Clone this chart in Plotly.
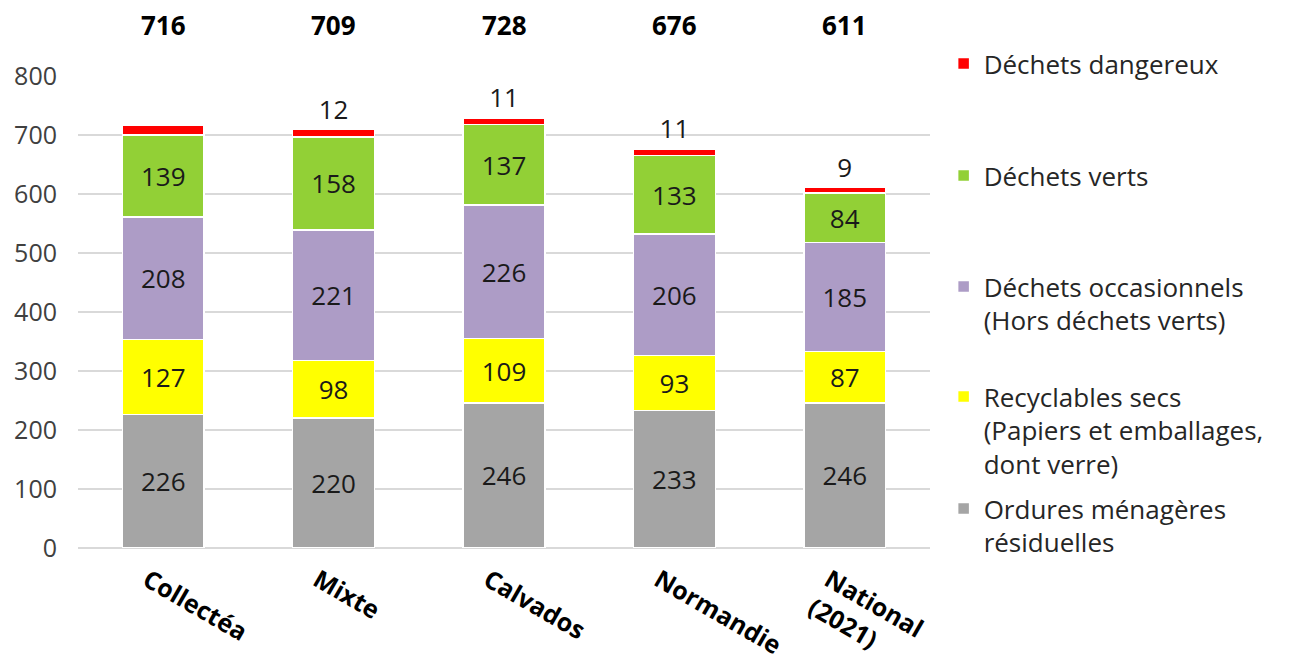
import plotly.graph_objects as go

categories = ["Collectéa", "Mixte", "Calvados", "Normandie", "National<br>(2021)"]
omr = [226, 220, 246, 233, 246]
recyclables = [127, 98, 109, 93, 87]
occasionnels = [208, 221, 226, 206, 185]
verts = [139, 158, 137, 133, 84]
dangereux = [16, 12, 11, 11, 9]
dangereux_labels = ["", "12", "11", "11", "9"]
totals = [716, 709, 728, 676, 611]

series_names = [
    "Ordures ménagères<br>résiduelles",
    "Recyclables secs<br>(Papiers et emballages,<br>dont verre)",
    "Déchets occasionnels<br>(Hors déchets verts)",
    "Déchets verts",
    "Déchets dangereux",
]
series_values = [omr, recyclables, occasionnels, verts, dangereux]
series_colors = ["#a5a5a5", "#ffff00", "#ad9cc6", "#92d036", "#ff0000"]
# one legend box per series, stacked top (dangereux) to bottom (ordures)
series_legend = ["legend5", "legend4", "legend3", "legend2", "legend"]
legend_tops = {"legend": 0.9515, "legend2": 0.7818, "legend3": 0.6136,
               "legend4": 0.4470, "legend5": 0.2773}

FONT = "Open Sans"
fig = go.Figure()
for i, (name, vals, col, lg) in enumerate(zip(series_names, series_values, series_colors, series_legend)):
    is_top = i == len(series_names) - 1
    fig.add_trace(go.Bar(
        x=categories, y=vals, name=name,
        marker=dict(color=col, line=dict(color="white", width=1.5)),
        text=dangereux_labels if is_top else [str(v) for v in vals],
        texttemplate="%{text}",
        textposition="outside" if is_top else "inside",
        insidetextanchor="middle",
        textangle=0,
        constraintext="none",
        textfont=dict(family=FONT, size=26, color="#1a1a1a"),
        outsidetextfont=dict(family=FONT, size=26, color="#1a1a1a"),
        cliponaxis=False,
        legend=lg,
        hoverinfo="skip",
    ))

for cat, tot in zip(categories, totals):
    fig.add_annotation(x=cat, y=1.108, xref="x", yref="paper", yanchor="middle",
                       text=f"<b>{tot}</b>", showarrow=False,
                       font=dict(family=FONT, size=26, color="black"))

legend_style = dict(
    x=1.016, xanchor="left",
    yref="container", yanchor="top",
    font=dict(family=FONT, size=26, color="#262626"),
    valign="top",
    bgcolor="rgba(0,0,0,0)",
)

fig.update_layout(
    barmode="stack",
    bargap=0.52,
    width=1292, height=660,
    margin=dict(l=70, r=370, t=68, b=120, autoexpand=False),
    plot_bgcolor="white", paper_bgcolor="white",
    font=dict(family=FONT, color="#404040"),
    showlegend=True,
    **{k: dict(legend_style, y=v) for k, v in legend_tops.items()},
)
fig.update_yaxes(range=[0, 800], dtick=100, showgrid=True, gridcolor="#d9d9d9", gridwidth=2,
                 zeroline=True, zerolinecolor="#d9d9d9", zerolinewidth=2,
                 tickfont=dict(family=FONT, size=25, color="#404040"),
                 ticklabelstandoff=20, showline=False, automargin=False)
fig.update_xaxes(tickangle=30, tickfont=dict(family=FONT, size=25, color="black", weight="bold"),
                 showline=False, showgrid=False, automargin=False,
                 ticklabelstandoff=12, ticklabelshift=-16)

fig.write_html("out.html")
